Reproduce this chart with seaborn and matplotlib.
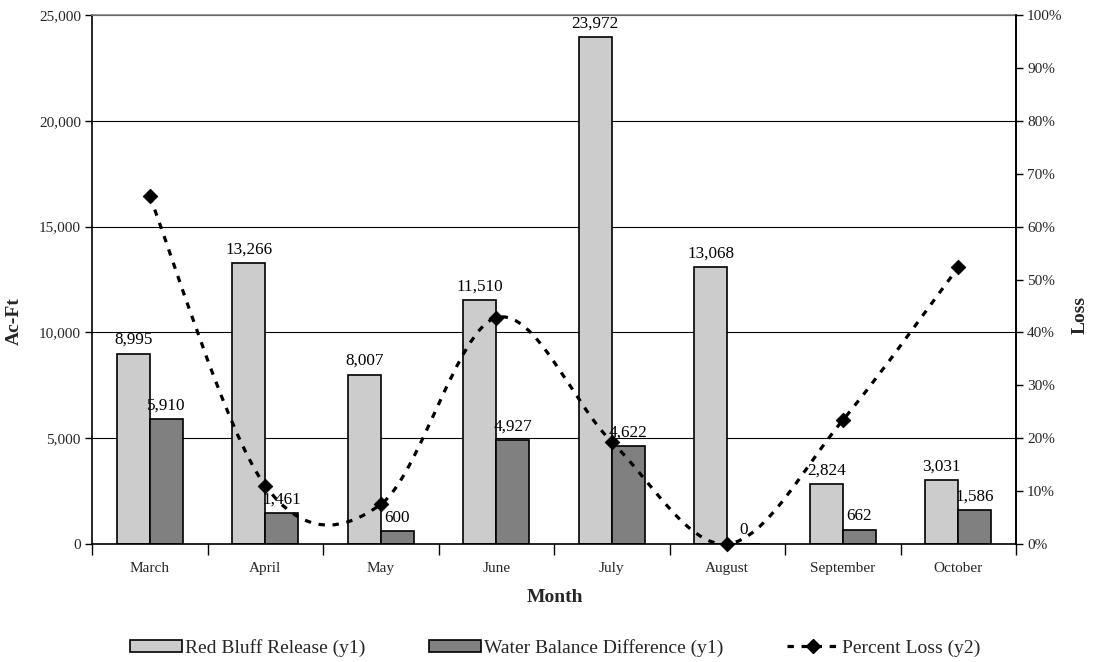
import numpy as np
import pandas as pd
import matplotlib
matplotlib.use("Agg")
import matplotlib.pyplot as plt
from matplotlib.path import Path
from matplotlib.patches import PathPatch, Patch
from matplotlib.lines import Line2D
from matplotlib.ticker import FuncFormatter, MultipleLocator, PercentFormatter
import seaborn as sns

# Monthly values
months = ["March", "April", "May", "June", "July", "August", "September", "October"]
red_bluff_release = [8995, 13266, 8007, 11510, 23972, 13068, 2824, 3031]
water_balance_diff = [5910, 1461, 600, 4927, 4622, 0, 662, 1586]
percent_loss = [65.7, 11.0, 7.5, 42.8, 19.3, 0.0, 23.4, 52.3]

series_names = ["Red Bluff Release (y1)", "Water Balance Difference (y1)"]
line_name = "Percent Loss (y2)"

sns.set_theme(style="white")
plt.rcParams["font.family"] = ["Liberation Serif", "DejaVu Serif"]

df = pd.DataFrame({
    "Month": months * 2,
    "Series": [series_names[0]] * len(months) + [series_names[1]] * len(months),
    "Value": red_bluff_release + water_balance_diff,
})

light, dark = "#cccccc", "#808080"

fig = plt.figure(figsize=(10.94, 6.62), dpi=100)
ax = fig.add_axes([92 / 1094, 1 - 544 / 662, (1016 - 92) / 1094, (544 - 15) / 662])

sns.barplot(data=df, x="Month", y="Value", hue="Series", order=months,
            hue_order=series_names, palette=[light, dark], width=0.57, gap=0,
            edgecolor="black", linewidth=1.2, legend=False, ax=ax, zorder=2)

for cont in ax.containers:
    ax.bar_label(cont, labels=[f"{v:,.0f}" for v in cont.datavalues],
                 padding=4, fontsize=12.3, color="black")

ax.set_xlim(-0.5, len(months) - 0.5)
ax.set_ylim(0, 25000)
ax.yaxis.set_major_locator(MultipleLocator(5000))
ax.yaxis.set_major_formatter(FuncFormatter(lambda v, p: f"{v:,.0f}"))
ax.grid(axis="y", color="black", linewidth=0.8, zorder=0)
ax.set_axisbelow(True)
ax.set_xlabel("")
ax.set_ylabel("")

# category boundary ticks on the x axis, labels centred without ticks
ax.set_xticks(np.arange(len(months)))
ax.set_xticklabels(months, fontsize=11)
ax.set_xticks(np.arange(len(months) + 1) - 0.5, minor=True)
ax.tick_params(axis="x", which="major", length=0, pad=13)
ax.tick_params(axis="x", which="minor", length=8, width=1, color="black", direction="out")
ax.tick_params(axis="y", which="major", length=5, width=1, color="black",
               direction="out", labelsize=11, pad=3)
ax.tick_params(axis="both", which="both", left=True, bottom=True)

for side in ["left", "bottom", "right"]:
    ax.spines[side].set_color("black")
    ax.spines[side].set_linewidth(1.2)
ax.spines["top"].set_color("#808080")
ax.spines["top"].set_linewidth(1.2)

# secondary axis for percent loss
ax2 = ax.twinx()
ax2.set_ylim(0, 100)
ax2.yaxis.set_major_locator(MultipleLocator(10))
ax2.yaxis.set_major_formatter(PercentFormatter(decimals=0))
ax2.tick_params(axis="y", length=5, width=1, color="black", direction="out",
                labelsize=11, pad=3, right=True)
ax2.grid(False)
for side in ax2.spines:
    ax2.spines[side].set_visible(False)
ax2.spines["right"].set_visible(True)
ax2.spines["right"].set_color("black")
ax2.spines["right"].set_linewidth(1.2)

# smoothed curve through the percent points (cubic Bezier segments)
xs = np.arange(len(months), dtype=float)
ys = np.array(percent_loss, dtype=float)
pts = np.column_stack([xs, ys])
ext = np.vstack([pts[0], pts, pts[-1]])
verts = [tuple(pts[0])]
codes = [Path.MOVETO]
for i in range(len(pts) - 1):
    p_prev, p0, p1, p_next = ext[i], ext[i + 1], ext[i + 2], ext[i + 3]
    c1 = p0 + (p1 - p_prev) / 6.0
    c2 = p1 - (p_next - p0) / 6.0
    verts += [tuple(c1), tuple(c2), tuple(p1)]
    codes += [Path.CURVE4] * 3
curve = PathPatch(Path(verts, codes), facecolor="none", edgecolor="black",
                  linewidth=2.3, linestyle=(0, (2.0, 2.4)), capstyle="butt",
                  zorder=5)
ax2.add_patch(curve)
sns.scatterplot(x=xs, y=ys, marker="D", s=55, color="black", edgecolor="black",
                ax=ax2, zorder=6, legend=False, clip_on=False)

fig.text(14 / 1094, 1 - 321 / 662, "Ac-Ft", rotation=90, fontsize=14,
         fontweight="bold", ha="center", va="center")
fig.text(1080 / 1094, 1 - 315 / 662, "Loss", rotation=90, fontsize=14,
         fontweight="bold", ha="center", va="center")
fig.text(555 / 1094, 1 - 597 / 662, "Month", fontsize=14, fontweight="bold",
         ha="center", va="center")

handles = [
    Patch(facecolor=light, edgecolor="black", linewidth=1.2, label=series_names[0]),
    Patch(facecolor=dark, edgecolor="black", linewidth=1.2, label=series_names[1]),
    Line2D([0], [0], color="black", linewidth=2.3, linestyle=(0, (2.0, 2.4)),
           marker="D", markersize=7, label=line_name),
]
fig.legend(handles=handles, loc="center", bbox_to_anchor=(555 / 1094, 1 - 648 / 662),
           ncol=3, frameon=False, fontsize=14, handlelength=2.65, handleheight=0.6,
           handletextpad=0.15, columnspacing=3.3, borderaxespad=0, borderpad=0)

fig.savefig("out.png", dpi=100)
